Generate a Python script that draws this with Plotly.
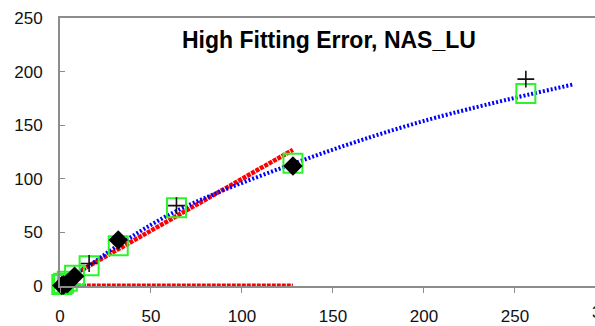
import plotly.graph_objects as go

# ---- data ----
red_fit_x = [12, 128]
red_fit_y = [15, 127]
red_base_x = [1, 128]
red_base_y = [0, 0]
blue_fit_x = [11, 16, 32, 64, 128, 200, 282]
blue_fit_y = [14, 19, 38, 70, 114, 154, 188]
square_x = [1, 2, 4, 8, 16, 32, 64, 128, 256]
square_y = [1.5, 2.5, 4.5, 10, 19, 37.5, 73, 114.5, 179.5]
diamond_x = [1, 2, 4, 8, 32, 128]
diamond_y = [0.5, 1, 2, 9, 43, 112]
plus_x = [16, 64, 256]
plus_y = [21, 75, 193]
x_ticks = [0, 50, 100, 150, 200, 250]
y_ticks = [0, 50, 100, 150, 200, 250]
title_text = "High Fitting Error, NAS_LU"

W, H = 595, 326
L, T, B = 60, 17.5, 35.5
XMAX = 294

fig = go.Figure()
fig.add_trace(go.Scatter(x=red_base_x, y=red_base_y, mode="lines",
                         line=dict(color="#ff0000", width=5, dash="4px,1px"),
                         cliponaxis=False, hoverinfo="skip"))
fig.add_trace(go.Scatter(x=red_fit_x, y=red_fit_y, mode="lines",
                         line=dict(color="#ff0000", width=4.5, dash="4px,1px"),
                         hoverinfo="skip"))
fig.add_trace(go.Scatter(x=blue_fit_x, y=blue_fit_y, mode="lines",
                         line=dict(color="#0000ff", width=4, dash="2px,2px", shape="spline"),
                         hoverinfo="skip"))
fig.add_trace(go.Scatter(x=square_x, y=square_y, mode="markers",
                         marker=dict(symbol="square-open", size=19, color="#2af52a",
                                     line=dict(color="#2af52a", width=2)),
                         cliponaxis=False))
fig.add_trace(go.Scatter(x=diamond_x, y=diamond_y, mode="markers",
                         marker=dict(symbol="diamond", size=15, color="#000000",
                                     line=dict(width=0)),
                         cliponaxis=False))
fig.add_trace(go.Scatter(x=plus_x, y=plus_y, mode="markers",
                         marker=dict(symbol="cross-thin", size=12, color="#111111",
                                     line=dict(color="#111111", width=1.6)),
                         cliponaxis=False))

font_family = "Liberation Sans, Arial, Helvetica, sans-serif"

fig.update_layout(
    width=W, height=H,
    margin=dict(l=L, r=0, t=T, b=B),
    paper_bgcolor="white", plot_bgcolor="white",
    showlegend=False,
    font=dict(family=font_family, size=17, color="#111111"),
    xaxis=dict(range=[0, XMAX], tickvals=x_ticks, ticktext=[str(v) for v in x_ticks],
               showgrid=False, zeroline=False,
               showline=True, mirror=True, linecolor="#8c8c8c", linewidth=2,
               ticks="outside", ticklen=5, tickcolor="#8c8c8c", tickwidth=1,
               ticklabelstandoff=9,
               tickfont=dict(family=font_family, size=17, color="#111111")),
    yaxis=dict(range=[0, 250], tickvals=y_ticks, ticktext=[str(v) for v in y_ticks],
               showgrid=False, zeroline=False,
               showline=True, mirror=False, linecolor="#8c8c8c", linewidth=2,
               ticks="inside", ticklen=5, tickcolor="#8c8c8c", tickwidth=1,
               ticklabelstandoff=12,
               tickfont=dict(family=font_family, size=17, color="#111111")),
)

fig.add_annotation(text="<b>" + title_text + "</b>", xref="paper", yref="paper",
                   x=0.502, y=0.975, xanchor="center", yanchor="top", showarrow=False,
                   font=dict(family=font_family, size=23, color="#000000"))
fig.add_annotation(text="300", xref="paper", yref="paper",
                   x=300 / XMAX, y=0, xanchor="center", yanchor="top", yshift=-15,
                   showarrow=False,
                   font=dict(family=font_family, size=17, color="#111111"))

fig.write_html("out.html")
